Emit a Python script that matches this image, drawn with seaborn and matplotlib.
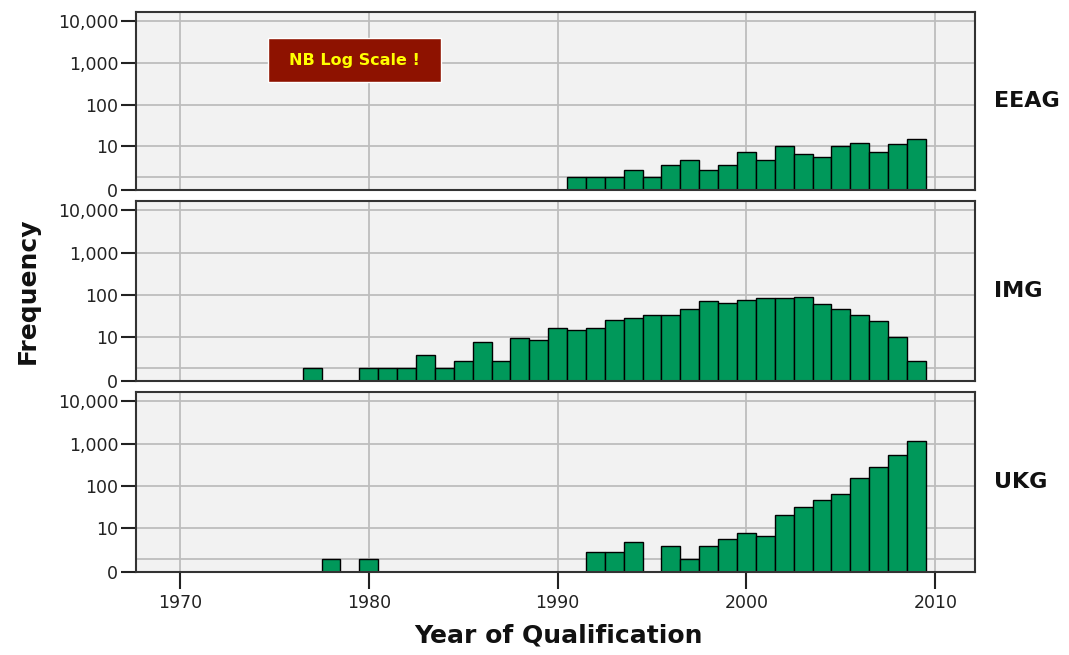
import numpy as np
import pandas as pd
import matplotlib
matplotlib.use('Agg')
import matplotlib.pyplot as plt
import seaborn as sns
from matplotlib.patches import Rectangle
from matplotlib.ticker import FixedLocator, FixedFormatter

# counts per year of qualification (log scale)
eeag_years = [1991, 1992, 1993, 1994, 1995, 1996, 1997, 1998, 1999, 2000,
              2001, 2002, 2003, 2004, 2005, 2006, 2007, 2008, 2009]
eeag_counts = [1, 1, 1, 2, 1, 3, 4, 2, 3, 7, 4, 10, 6, 5, 10, 12, 7, 11, 15]

img_years = [1977, 1980, 1981, 1982, 1983, 1984, 1985, 1986, 1987, 1988, 1989,
             1990, 1991, 1992, 1993, 1994, 1995, 1996, 1997, 1998, 1999,
             2000, 2001, 2002, 2003, 2004, 2005, 2006, 2007, 2008, 2009]
img_counts = [1, 1, 1, 1, 3, 1, 2, 7, 2, 9, 8,
              16, 15, 16, 26, 29, 35, 34, 48, 72, 65,
              79, 89, 89, 90, 62, 48, 35, 24, 10, 2]

ukg_years = [1978, 1980, 1992, 1993, 1994, 1996, 1997, 1998, 1999, 2000,
             2001, 2002, 2003, 2004, 2005, 2006, 2007, 2008, 2009]
ukg_counts = [1, 1, 2, 2, 4, 3, 1, 3, 5, 7, 6, 21, 32, 48, 65, 158, 293, 541, 1174]

groups = ['EEAG', 'IMG', 'UKG']
ytick_vals = [0, 10, 100, 1000, 10000]
ytick_labels = ['0', '10', '100', '1,000', '10,000']
xtick_vals = [1970, 1980, 1990, 2000, 2010]

GREEN = '#00985A'
BOLD = ['DejaVu Sans']

sns.set_style('ticks')
plt.rcParams['font.family'] = ['DejaVu Sans']


def fwd(v):
    return np.log10(np.maximum(v, 0) + 1)


def inv(v):
    return 10 ** v - 1


fig = plt.figure(figsize=(10.69, 6.55), dpi=100)
rects = [[0.1276, 0.7099, 0.7845, 0.2718],
         [0.1276, 0.4183, 0.7845, 0.2748],
         [0.1276, 0.1267, 0.7845, 0.2748]]

data = [(eeag_years, eeag_counts), (img_years, img_counts), (ukg_years, ukg_counts)]

for i, (name, (yrs, cnt)) in enumerate(zip(groups, data)):
    ax = fig.add_axes(rects[i])
    df = pd.DataFrame({'year': yrs, 'n': cnt})
    sns.histplot(data=df, x='year', weights='n', discrete=True, ax=ax,
                 color=GREEN, edgecolor='black', linewidth=1, alpha=1)
    ax.set_yscale('function', functions=(fwd, inv))
    ax.set_ylim(0, 16300)
    ax.set_xlim(1967.7, 2012.1)
    ax.set_facecolor('#F2F2F2')
    ax.yaxis.set_major_locator(FixedLocator(ytick_vals))
    ax.yaxis.set_major_formatter(FixedFormatter(ytick_labels))
    ax.yaxis.set_minor_locator(FixedLocator([1]))
    ax.xaxis.set_major_locator(FixedLocator(xtick_vals))
    ax.xaxis.set_minor_locator(FixedLocator([]))
    ax.set_axisbelow(True)
    ax.grid(True, which='major', color='#BDBDBD', lw=1.3)
    ax.grid(True, which='minor', axis='y', color='#BDBDBD', lw=1.3)
    ax.tick_params(axis='y', which='major', direction='out', length=11, width=1.5,
                   color='#222222', labelsize=12.5, labelcolor='#222222', pad=2)
    ax.tick_params(axis='y', which='minor', length=0)
    for s in ax.spines.values():
        s.set_color('#333333')
        s.set_linewidth(1.5)
    ax.set_xlabel('')
    ax.set_ylabel('')
    if i < 2:
        ax.tick_params(axis='x', length=0, labelbottom=False)
    else:
        ax.tick_params(axis='x', direction='out', length=12, width=1.5,
                       color='#222222', labelsize=12.5, labelcolor='#222222', pad=4)
    ax.text(1.023, 0.5, name, transform=ax.transAxes, fontsize=16,
            fontweight='bold', va='center', ha='left', family=BOLD, color='#111111')
    if i == 0:
        ax.add_patch(Rectangle((0.157, 0.607), 0.206, 0.247, transform=ax.transAxes,
                               facecolor='#8E1200', edgecolor='white', lw=1, zorder=5))
        ax.text(0.26, 0.73, 'NB Log Scale !', transform=ax.transAxes, color='#FFFF00',
                fontsize=11.5, fontweight='bold', ha='center', va='center', zorder=6,
                family=BOLD)

fig.text(0.026, 0.556, 'Frequency', rotation=90, fontsize=18, fontweight='bold',
         ha='center', va='center', family=BOLD, color='#111111')
fig.text(0.522, 0.03, 'Year of Qualification', fontsize=18, fontweight='bold',
         ha='center', va='center', family=BOLD, color='#111111')

fig.savefig('out.png', dpi=100, facecolor='white')
